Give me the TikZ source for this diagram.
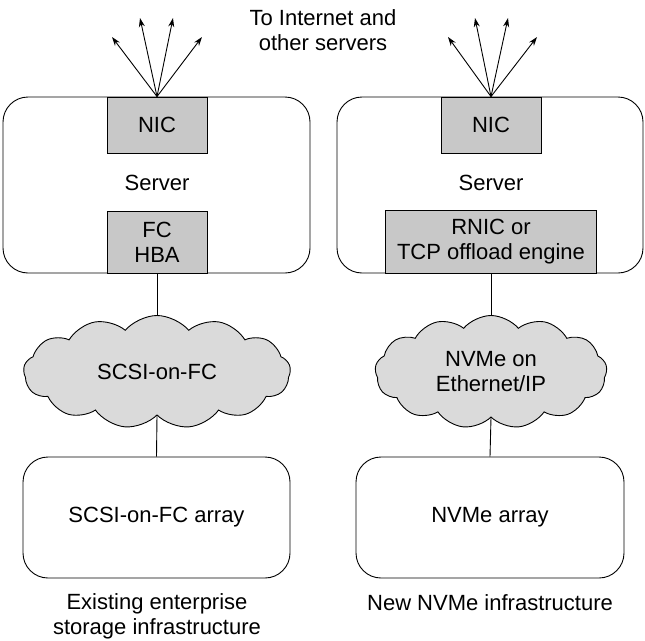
\documentclass[tikz,border=0pt]{standalone}
\usepackage{fontspec}
\setmainfont{Liberation Sans}
\usetikzlibrary{shapes.symbols,arrows.meta}
\begin{document}
\begin{tikzpicture}[x=1pt,y=-1pt,
  every node/.style={font=\fontsize{22}{25}\selectfont, align=center, inner sep=0pt},
  serverbox/.style={draw, line width=0.9pt, rounded corners=25pt},
  card/.style={draw, line width=0.9pt, fill=cardgray},
  netcloud/.style={draw, line width=0.9pt, fill=cloudgray, cloud, cloud puffs=13, cloud puff arc=100, aspect=2.4},
  conn/.style={line width=0.9pt},
  outarrow/.style={line width=0.9pt, -{Stealth[length=9pt,width=6pt]}}
]
\definecolor{cardgray}{HTML}{C8C8C8}
\definecolor{cloudgray}{HTML}{DADADA}
\useasboundingbox (0,0) rectangle (645,640);

% title
\node (title) at (323,30) {To Internet and\\other servers};

% left column
\node[serverbox, minimum width=307pt, minimum height=176pt] (srvL) at (156.5,185) {};
\node (srvLt) at (157,183) {Server};
\node[card, minimum width=100pt, minimum height=56pt] (nicL) at (157,125) {NIC};
\node[card, minimum width=100pt, minimum height=62pt] (hba) at (157,242) {FC\\HBA};
\node[netcloud, minimum width=267pt, minimum height=113pt] (cloudL) at (157,372) {SCSI-on-FC};
\node[serverbox, minimum width=267pt, minimum height=121pt] (arrL) at (156.5,517.5) {SCSI-on-FC array};
\node (capL) at (157,616) {Existing enterprise\\storage infrastructure};

% right column
\node[serverbox, minimum width=306pt, minimum height=176pt] (srvR) at (490,185) {};
\node (srvRt) at (491,183) {Server};
\node[card, minimum width=100pt, minimum height=56pt] (nicR) at (491,125) {NIC};
\node[card, minimum width=211pt, minimum height=63pt] (rnic) at (491,241.5) {RNIC or\\TCP offload engine};
\node[netcloud, minimum width=232pt, minimum height=113pt] (cloudR) at (491,372) {NVMe on\\Ethernet/IP};
\node[serverbox, minimum width=268pt, minimum height=121pt] (arrR) at (490,517.5) {NVMe array};
\node (capR) at (490,603) {New NVMe infrastructure};

% outgoing arrows
\coordinate (l1) at (112,37);
\coordinate (l2) at (140,18);
\coordinate (l3) at (173,18);
\coordinate (l4) at (202,37);
\coordinate (r1) at (448,37);
\coordinate (r2) at (475,18);
\coordinate (r3) at (508,18);
\coordinate (r4) at (537,37);
\foreach \t in {l1,l2,l3,l4} \draw[outarrow] (nicL.north) -- (\t);
\foreach \t in {r1,r2,r3,r4} \draw[outarrow] (nicR.north) -- (\t);

% connectors
\draw[conn] (hba.south) -- (cloudL.north);
\draw[conn] (cloudL.south) -- (arrL.north);
\draw[conn] (rnic.south) -- (cloudR.north);
\draw[conn] (cloudR.south) -- (arrR.north);
\end{tikzpicture}
\end{document}
